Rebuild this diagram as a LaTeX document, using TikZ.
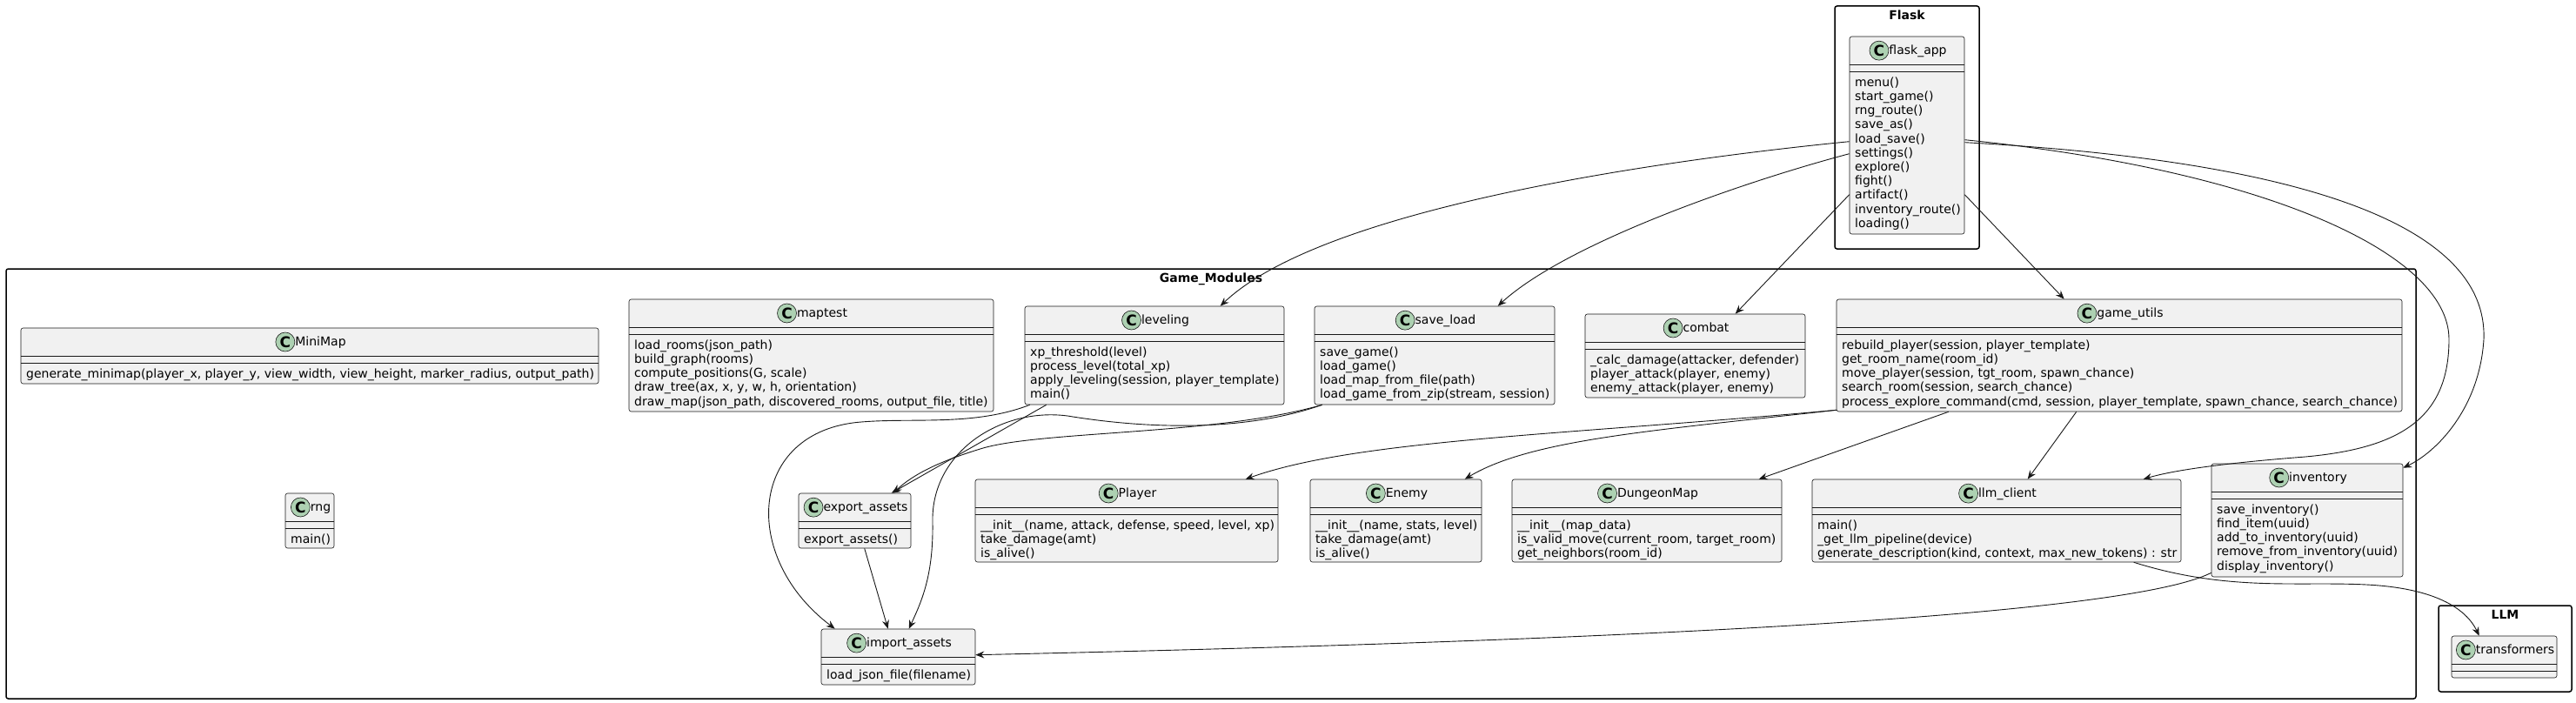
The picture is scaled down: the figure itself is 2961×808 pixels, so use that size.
\documentclass[tikz,border=0pt]{standalone}
\usepackage{fontspec}
\setmainfont{DejaVu Sans}
\usetikzlibrary{arrows.meta,calc}
\definecolor{ln}{HTML}{181818}
\definecolor{clsfill}{HTML}{F1F1F1}
\definecolor{circfill}{HTML}{ADD1B2}
\newcommand{\tstrut}{\rule[-3pt]{0pt}{15.4pt}}
\newcommand{\mstrut}{\rule{0pt}{11.34pt}}
\tikzset{
  cls/.style={draw=ln, line width=0.6pt, fill=clsfill, rounded corners=2.5pt, inner sep=0pt},
  sepl/.style={draw=ln, line width=0.6pt},
  ttl/.style={inner sep=0pt, font=\fontsize{14pt}{16.2pt}\selectfont, text=black, label distance=3pt},
  meth/.style={inner sep=0pt, align=left, anchor=north west, font=\fontsize{14pt}{16.2pt}\selectfont},
  cbadge/.style={circle, draw=ln, line width=0.6pt, fill=circfill, minimum size=22pt, inner sep=0pt, font=\fontsize{17pt}{17pt}\selectfont\bfseries},
  pkg/.style={draw=black, line width=1.5pt, rounded corners=2.5pt, inner sep=0pt},
  pkgt/.style={font=\fontsize{14pt}{16pt}\selectfont\bfseries, inner sep=0pt, anchor=base},
  dep/.style={draw=ln, line width=0.9pt, -{Stealth[length=10pt,width=8pt,inset=3.5pt]}},
}
\newcommand{\umlcls}[7]{%
  \node[cls, minimum width={(#4)-(#2)}, minimum height={(#5)-(#3)}] (#1) at ({((#2)+(#4))/2},{((#3)+(#5))/2}) {};
  \draw[sepl] (#2,{#3+32}) -- (#4,{#3+32});
  \draw[sepl] (#2,{#3+40}) -- (#4,{#3+40});
  \node[ttl, anchor=base, label={[cbadge]left:C}] (#1t) at ({((#2)+(#4))/2+12.5},{#3+20.7}) {\tstrut#6};
  \if\relax\detokenize{#7}\relax\else
  \node[meth] (#1m) at ({#2+6},{#3+45.66}) {\mstrut#7};
  \fi
}
\newcommand{\umlpkg}[6]{%
  \node[pkg, minimum width={(#4)-(#2)}, minimum height={(#5)-(#3)}] (#1) at ({((#2)+(#4))/2},{((#3)+(#5))/2}) {};
  \node[pkgt] (#1t) at ({((#2)+(#4))/2},{#3+15.5}) {#6};
}
\begin{document}
\begin{tikzpicture}[x=1pt,y=-1pt]
\useasboundingbox (0,0) rectangle (2961,808);
% packages
\umlpkg{pflask}{2109}{7}{2275}{286}{Flask}
\umlpkg{pgame}{7}{309}{2777}{803}{Game\_Modules}
\umlpkg{pllm}{2803}{696}{2956}{795}{LLM}
% classes
\umlcls{fa}{2126}{42}{2258}{269}{flask\_app}{menu()\\start\_game()\\rng\_route()\\save\_as()\\load\_save()\\settings()\\explore()\\fight()\\artifact()\\inventory\_route()\\loading()}
\umlcls{mm}{24}{377}{688}{441}{MiniMap}{generate\_minimap(player\_x, player\_y, view\_width, view\_height, marker\_radius, output\_path)}
\umlcls{mt}{723}{344}{1142}{473}{maptest}{load\_rooms(json\_path)\\build\_graph(rooms)\\compute\_positions(G, scale)\\draw\_tree(ax, x, y, w, h, orientation)\\draw\_map(json\_path, discovered\_rooms, output\_file, title)}
\umlcls{lev}{1178}{352}{1476}{465}{leveling}{xp\_threshold(level)\\process\_level(total\_xp)\\apply\_leveling(session, player\_template)\\main()}
\umlcls{sl}{1511}{352}{1787}{465}{save\_load}{save\_game()\\load\_game()\\load\_map\_from\_file(path)\\load\_game\_from\_zip(stream, session)}
\umlcls{cmb}{1822}{361}{2075}{457}{combat}{\_calc\_damage(attacker, defender)\\player\_attack(player, enemy)\\enemy\_attack(player, enemy)}
\umlcls{gu}{2111}{344}{2761}{473}{game\_utils}{rebuild\_player(session, player\_template)\\get\_room\_name(room\_id)\\move\_player(session, tgt\_room, spawn\_chance)\\search\_room(session, search\_chance)\\process\_explore\_command(cmd, session, player\_template, spawn\_chance, search\_chance)}
\umlcls{rng}{328}{567}{384}{630}{rng}{main()}
\umlcls{ea}{918}{567}{1047}{630}{export\_assets}{export\_assets()}
\umlcls{pl}{1121}{551}{1469}{646}{Player}{\_\_init\_\_(name, attack, defense, speed, level, xp)\\take\_damage(amt)\\is\_alive()}
\umlcls{en}{1506}{551}{1703}{646}{Enemy}{\_\_init\_\_(name, stats, level)\\take\_damage(amt)\\is\_alive()}
\umlcls{dm}{1738}{551}{2048}{646}{DungeonMap}{\_\_init\_\_(map\_data)\\is\_valid\_move(current\_room, target\_room)\\get\_neighbors(room\_id)}
\umlcls{llm}{2083}{551}{2507}{646}{llm\_client}{main()\\\_get\_llm\_pipeline(device)\\generate\_description(kind, context, max\_new\_tokens) : str}
\umlcls{inv}{2542}{533}{2762}{663}{inventory}{save\_inventory()\\find\_item(uuid)\\add\_to\_inventory(uuid)\\remove\_from\_inventory(uuid)\\display\_inventory()}
\umlcls{ia}{944}{723}{1121}{787}{import\_assets}{load\_json\_file(filename)}
\umlcls{tr}{2818}{731}{2939}{779}{transformers}{}
% connectors
\draw[dep] ($(fa.north west)+(0,121)$) .. controls (1900,185) and (1520,240) .. ($(lev.north west)+(225,0)$);
\draw[dep] ($(fa.north west)+(0,135)$) .. controls (2000,210) and (1800,280) .. ($(sl.north west)+(211,0)$);
\draw[dep] ($(fa.north west)+(0,182)$) -- ($(cmb.north west)+(173,0)$);
\draw[dep] ($(fa.north east)+(0,182)$) -- ($(gu.north west)+(262,0)$);
\draw[dep] ($(fa.north east)+(0,119)$) .. controls (2600,195) and (2815,290) .. (2815,390) .. controls (2815,480) and (2760,515) .. (2650,525) .. controls (2560,532) and (2500,540) .. ($(llm.north west)+(381,0)$);
\draw[dep] ($(fa.north east)+(0,122)$) .. controls (2650,185) and (2860,260) .. (2855,390) .. controls (2850,470) and (2800,520) .. ($(inv.north east)+(0,5)$);
\draw[dep] ($(gu.south west)+(0,-2)$) .. controls (1800,500) and (1560,505) .. ($(pl.north west)+(311,0)$);
\draw[dep] ($(gu.south west)+(0,-2)$) .. controls (1900,495) and (1760,505) .. ($(en.north west)+(178,0)$);
\draw[dep] ($(gu.south west)+(129,0)$) -- ($(dm.north west)+(284,0)$);
\draw[dep] ($(gu.south west)+(276,0)$) -- ($(llm.north west)+(248,0)$);
\draw[dep] ($(lev.south west)+(25,0)$) -- ($(ea.north west)+(107,0)$);
\draw[dep] ($(lev.south west)+(6,0)$) .. controls (1120,490) and (1050,480) .. (990,485) .. controls (860,495) and (850,640) .. ($(ia.north west)+(16,0)$);
\draw[dep] ($(sl.south west)+(9,0)$) .. controls (1400,500) and (1200,495) .. (1130,515) .. controls (1080,530) and (1050,545) .. ($(ea.north west)+(109,0)$);
\draw[dep] ($(sl.south west)+(9,0)$) .. controls (1420,500) and (1300,490) .. (1227,478) .. controls (1150,468) and (1070,520) .. (1072,600) .. controls (1073,660) and (1060,690) .. ($(ia.north west)+(101,0)$);
\draw[dep] ($(ea.south west)+(76,0)$) -- ($(ia.north west)+(77,0)$);
\draw[dep] ($(inv.south west)+(0,-5)$) .. controls (2430,715) and (1700,740) .. ($(ia.north east)+(0,30)$);
\draw[dep] ($(llm.south west)+(370,0)$) .. controls (2560,680) and (2640,668) .. (2720,672) .. controls (2800,676) and (2835,700) .. ($(tr.north west)+(32,0)$);
\end{tikzpicture}
\end{document}
